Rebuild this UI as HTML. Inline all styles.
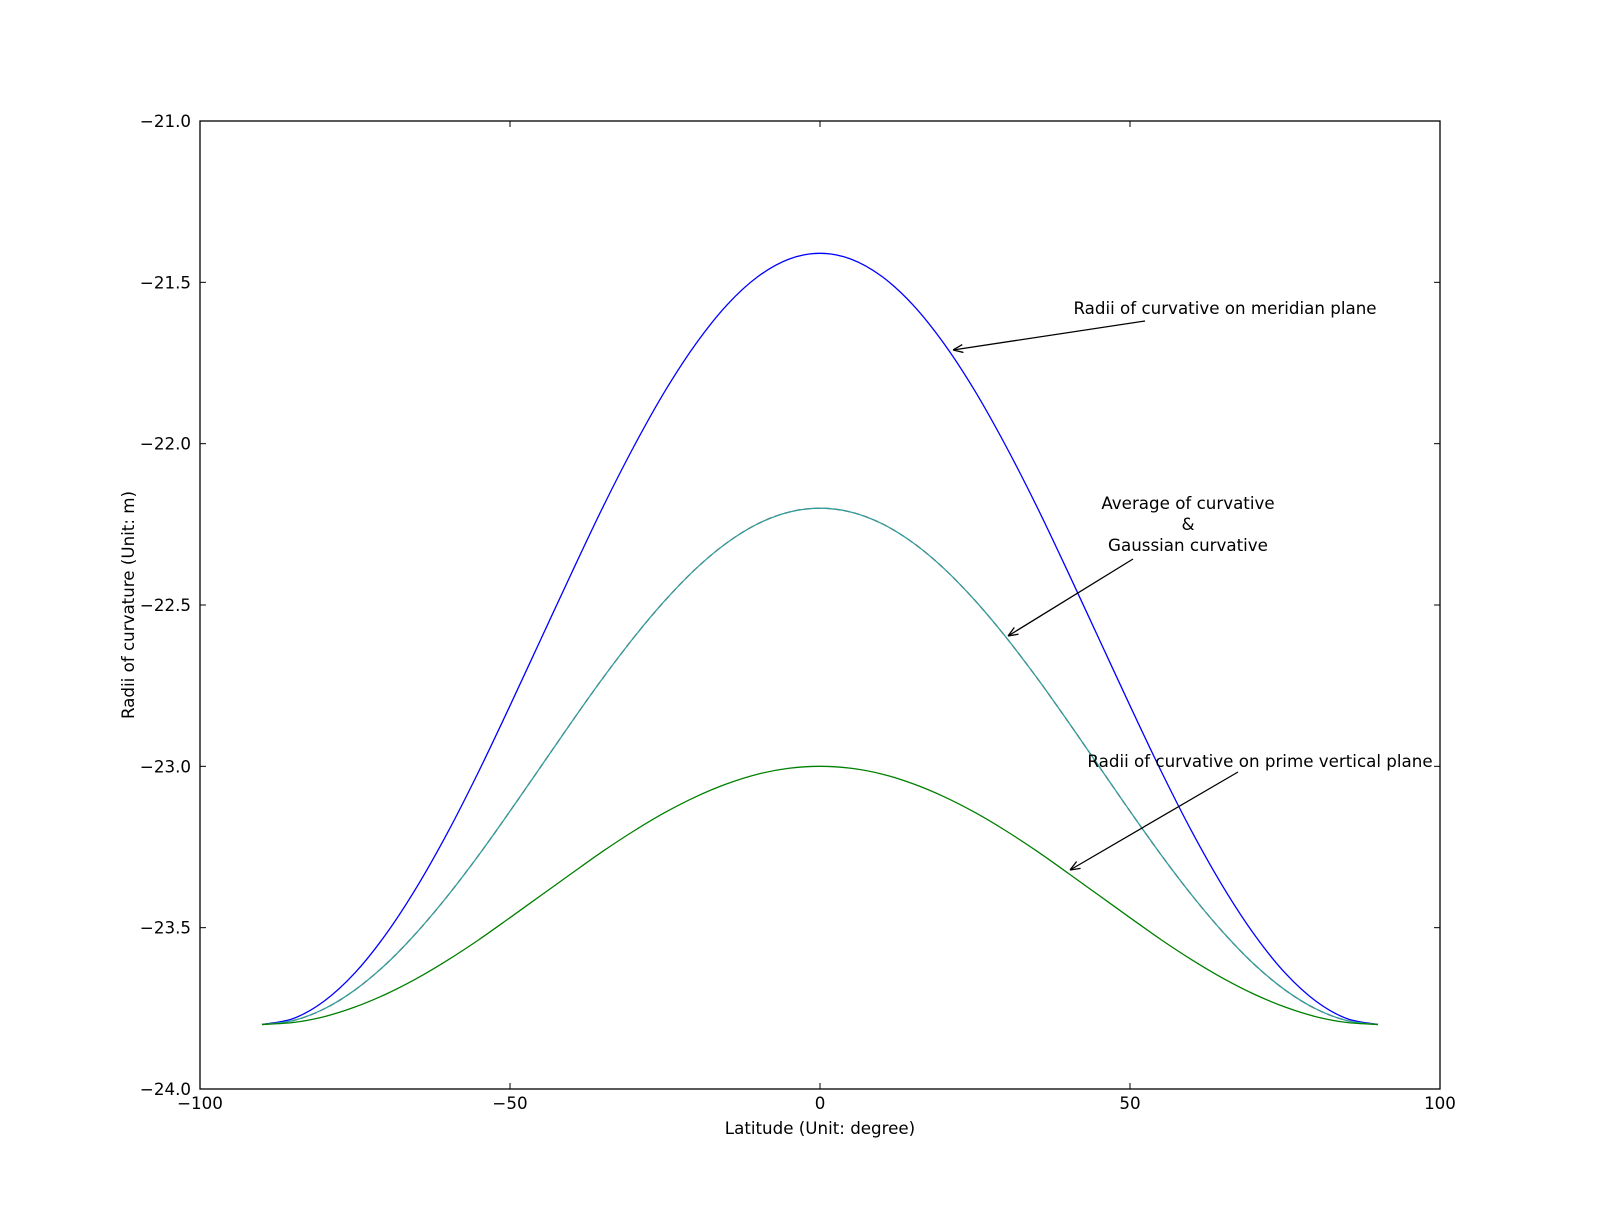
<!DOCTYPE html>
<html><head><meta charset="utf-8"><style>
body{margin:0;background:#fff}
svg text{font-family:"DejaVu Sans","Liberation Sans",sans-serif;font-size:16.7px;fill:#000}
</style></head><body>
<svg id="chart" width="1600" height="1210" xmlns="http://www.w3.org/2000/svg">
<rect width="1600" height="1210" fill="#fff"/>
<g id="plot"></g>
<g id="axes"></g>
<text x="820" y="1134" text-anchor="middle">Latitude  (Unit: degree)</text>
<text transform="translate(134,605) rotate(-90)" text-anchor="middle">Radii of curvature  (Unit: m)</text>
<defs><marker id="ah" viewBox="0 0 10 10" refX="10" refY="5" markerWidth="10" markerHeight="10" orient="auto" markerUnits="userSpaceOnUse"><path d="M0,1 L10,5 L0,9" fill="none" stroke="#000" stroke-width="1.3"/></marker></defs>
<g>
<text x="1225" y="314" text-anchor="middle">Radii of curvative on meridian plane</text>
<line x1="1145" y1="321" x2="953" y2="350" stroke="#000" stroke-width="1.3" marker-end="url(#ah)"/>
</g>
<g>
<text x="1188" y="509" text-anchor="middle">Average of curvative</text>
<text x="1188" y="530" text-anchor="middle">&amp;</text>
<text x="1188" y="551" text-anchor="middle">Gaussian curvative</text>
<line x1="1133" y1="559" x2="1008" y2="636" stroke="#000" stroke-width="1.3" marker-end="url(#ah)"/>
</g>
<g>
<text x="1260" y="767" text-anchor="middle">Radii of curvative on prime vertical plane</text>
<line x1="1238" y1="772" x2="1070" y2="870" stroke="#000" stroke-width="1.3" marker-end="url(#ah)"/>
</g>
</svg>
<script>
const latitudes=[-90,-85,-80,-75,-70,-65,-60,-55,-50,-45,-40,-35,-30,-25,-20,-15,-10,-5,0,5,10,15,20,25,30,35,40,45,50,55,60,65,70,75,80,85,90];
const meridian=[-23.8,-23.782,-23.728,-23.64,-23.52,-23.373,-23.203,-23.014,-22.812,-22.605,-22.398,-22.196,-22.008,-21.837,-21.69,-21.57,-21.482,-21.428,-21.41,-21.428,-21.482,-21.57,-21.69,-21.837,-22.008,-22.196,-22.398,-22.605,-22.812,-23.014,-23.203,-23.373,-23.52,-23.64,-23.728,-23.782,-23.8];
const average=[-23.8,-23.788,-23.752,-23.693,-23.613,-23.514,-23.4,-23.274,-23.139,-23.0,-22.861,-22.726,-22.6,-22.486,-22.387,-22.307,-22.248,-22.212,-22.2,-22.212,-22.248,-22.307,-22.387,-22.486,-22.6,-22.726,-22.861,-23.0,-23.139,-23.274,-23.4,-23.514,-23.613,-23.693,-23.752,-23.788,-23.8];
const gaussian=[-23.8,-23.788,-23.752,-23.693,-23.613,-23.514,-23.4,-23.274,-23.139,-23.0,-22.861,-22.726,-22.6,-22.486,-22.387,-22.307,-22.248,-22.212,-22.2,-22.212,-22.248,-22.307,-22.387,-22.486,-22.6,-22.726,-22.861,-23.0,-23.139,-23.274,-23.4,-23.514,-23.613,-23.693,-23.752,-23.788,-23.8];
const primeVertical=[-23.8,-23.794,-23.776,-23.746,-23.706,-23.657,-23.6,-23.537,-23.469,-23.4,-23.331,-23.263,-23.2,-23.143,-23.094,-23.054,-23.024,-23.006,-23.0,-23.006,-23.024,-23.054,-23.094,-23.143,-23.2,-23.263,-23.331,-23.4,-23.469,-23.537,-23.6,-23.657,-23.706,-23.746,-23.776,-23.794,-23.8];
const xTicks=[-100,-50,0,50,100];
const xTickLabels=["\u2212100","\u221250","0","50","100"];
const yTicks=[-24,-23.5,-23,-22.5,-22,-21.5,-21];
const yTickLabels=["\u221224.0","\u221223.5","\u221223.0","\u221222.5","\u221222.0","\u221221.5","\u221221.0"];
const L=200,R=1440,T=121,B=1089;
const xs=v=>L+(v+100)/200*(R-L);
const ys=v=>B-(v+24)/3*(B-T);
const NS="http://www.w3.org/2000/svg";
const plot=document.getElementById('plot'),axes=document.getElementById('axes');
function pathFor(vals){
  const p=latitudes.map((x,i)=>[xs(x),ys(vals[i])]);
  let d=`M${p[0][0]},${p[0][1]}`;
  for(let i=0;i<p.length-1;i++){
    const p0=p[Math.max(0,i-1)],p1=p[i],p2=p[i+1],p3=p[Math.min(p.length-1,i+2)];
    const c1=[p1[0]+(p2[0]-p0[0])/6,p1[1]+(p2[1]-p0[1])/6];
    const c2=[p2[0]-(p3[0]-p1[0])/6,p2[1]-(p3[1]-p1[1])/6];
    d+=` C${c1[0]},${c1[1]} ${c2[0]},${c2[1]} ${p2[0]},${p2[1]}`;
  }
  return d;
}
function addLine(vals,color,name,dash){
  const e=document.createElementNS(NS,'path');
  e.setAttribute('d',pathFor(vals));
  e.setAttribute('fill','none');e.setAttribute('stroke',color);e.setAttribute('stroke-width','1.3');
  if(dash)e.setAttribute('stroke-dasharray',dash);
  
  
  plot.appendChild(e);
}
addLine(meridian,'#0000ff','meridian-line');
addLine(gaussian,'#ff0000','gaussian-line','6,4');
addLine(average,'#2aa0a0','average-line');
addLine(primeVertical,'#008000','prime-vertical-line');
const frame=document.createElementNS(NS,'rect');
frame.setAttribute('x',L);frame.setAttribute('y',T);frame.setAttribute('width',R-L);frame.setAttribute('height',B-T);
frame.setAttribute('fill','none');frame.setAttribute('stroke','#000');frame.setAttribute('stroke-width','1.3');


axes.appendChild(frame);
function ln(x1,y1,x2,y2){const l=document.createElementNS(NS,'line');l.setAttribute('x1',x1);l.setAttribute('y1',y1);l.setAttribute('x2',x2);l.setAttribute('y2',y2);l.setAttribute('stroke','#000');l.setAttribute('stroke-width','1');axes.appendChild(l);return l;}
xTicks.forEach((v,i)=>{
  const x=xs(v);
  const t1=ln(x,B,x,B-6);
  
  
  const t2=ln(x,T,x,T+6);
  
  
  const t=document.createElementNS(NS,'text');
  t.setAttribute('x',x);t.setAttribute('y',B+20);t.setAttribute('text-anchor','middle');t.textContent=xTickLabels[i];
  
  
  axes.appendChild(t);
});
yTicks.forEach((v,i)=>{
  const y=ys(v);
  const t1=ln(L,y,L+6,y);
  
  
  const t2=ln(R,y,R-6,y);
  
  
  const t=document.createElementNS(NS,'text');
  t.setAttribute('x',L-9);t.setAttribute('y',y+6);t.setAttribute('text-anchor','end');t.textContent=yTickLabels[i];
  
  
  axes.appendChild(t);
});
</script>
</body></html>
